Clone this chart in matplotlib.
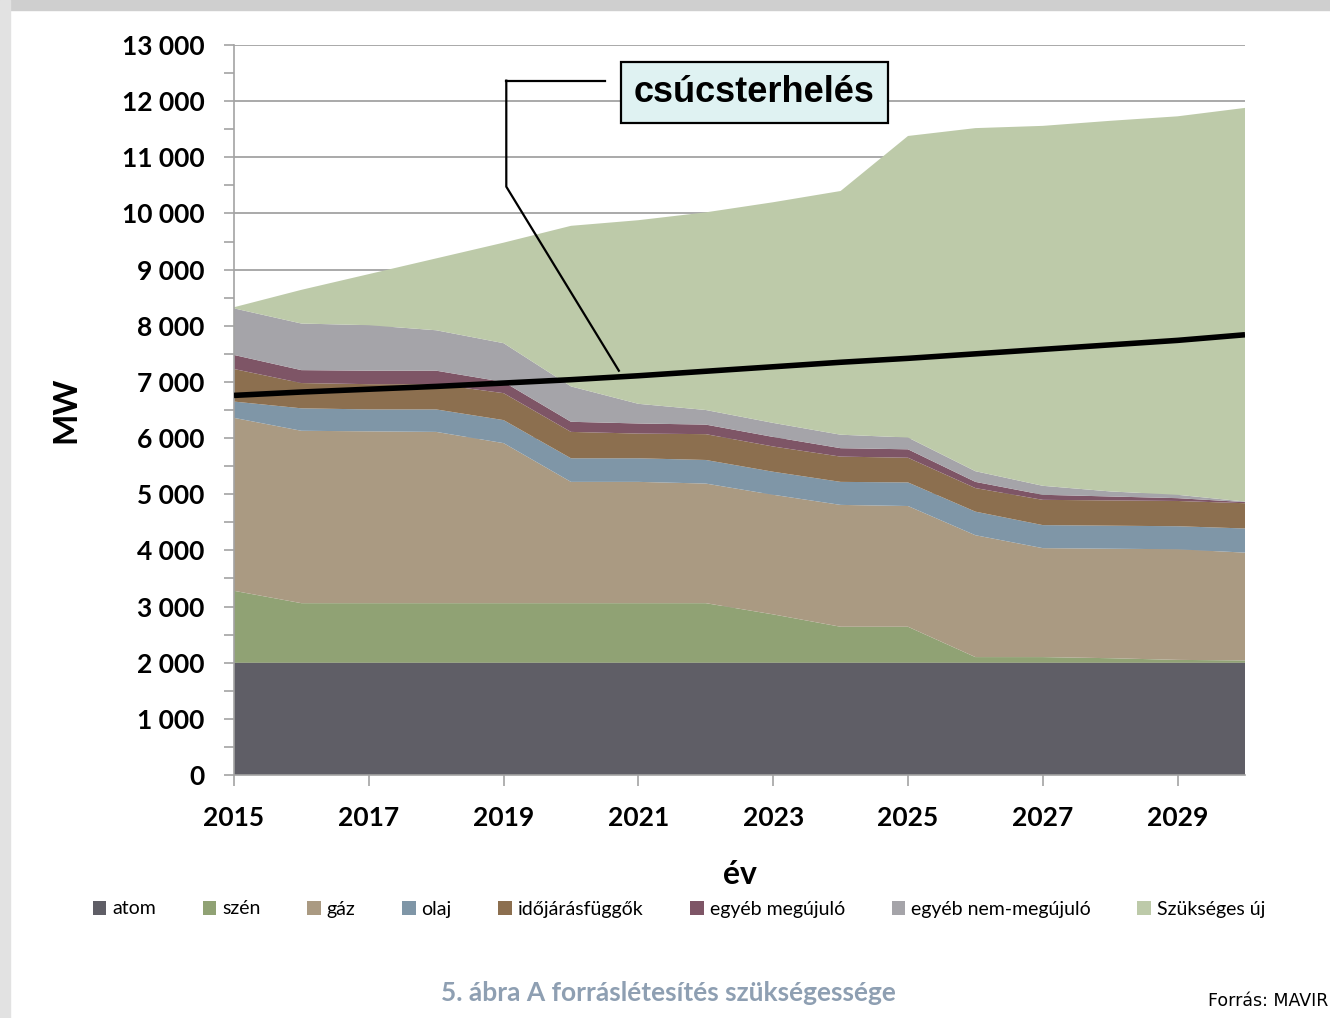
import numpy as np
import matplotlib.pyplot as plt
from matplotlib.patches import Rectangle, Patch
from matplotlib.ticker import FuncFormatter, MultipleLocator

plt.rcParams['font.family'] = ['Lato', 'DejaVu Sans']

# Capacity by source, MW, 2015-2030
years = list(range(2015, 2031))
atom = [2000] * 16
szen = [1280, 1060, 1060, 1060, 1060, 1060, 1060, 1060, 860, 640, 640, 100, 100, 80, 50, 40]
gaz = [3080, 3070, 3060, 3050, 2850, 2160, 2160, 2130, 2130, 2170, 2150, 2170, 1940, 1950, 1970, 1920]
olaj = [290, 400, 390, 400, 410, 420, 420, 420, 410, 410, 420, 420, 410, 410, 410, 430]
idojaras = [580, 450, 450, 450, 480, 470, 440, 460, 450, 450, 440, 420, 450, 450, 450, 450]
egyeb_megujulo = [250, 230, 240, 240, 200, 180, 180, 170, 170, 150, 150, 110, 90, 70, 50, 20]
egyeb_nem = [830, 830, 810, 720, 690, 630, 350, 260, 250, 240, 210, 190, 160, 90, 60, 10]
szukseges_uj = [20, 600, 910, 1280, 1790, 2860, 3270, 3520, 3930, 4340, 5370, 6110, 6410, 6600, 6740, 7010]

# peak load line
csucs = [6760, 6820, 6870, 6920, 6980, 7040, 7110, 7190, 7270, 7350, 7420, 7500, 7580, 7660, 7740, 7840]

labels = ['atom', 'szén', 'gáz', 'olaj', 'időjárásfüggők', 'egyéb megújuló',
          'egyéb nem-megújuló', 'Szükséges új']
colors = ['#5f5e66', '#90a274', '#aa9a82', '#7f96a7', '#8c6f4f', '#7e5566',
          '#a5a4a9', '#bdcaa9']

fig = plt.figure(figsize=(13.3, 10.18), dpi=100)

# grey page edges
fig.patches.append(Rectangle((0, 1 - 10 / 1018), 1, 10 / 1018, transform=fig.transFigure,
                             color='#cfcfcf', zorder=0))
fig.patches.append(Rectangle((0, 0), 10 / 1330, 1, transform=fig.transFigure,
                             color='#e2e2e2', zorder=0))

ax = fig.add_axes([234 / 1330, 243 / 1018, 1011 / 1330, 730 / 1018])

series = [atom, szen, gaz, olaj, idojaras, egyeb_megujulo, egyeb_nem, szukseges_uj]
ax.stackplot(years, *series, colors=colors, labels=labels, linewidth=0, zorder=2)
ax.plot(years, csucs, color='black', lw=4, solid_capstyle='butt', zorder=4)

ax.set_xlim(2015, 2030)
ax.set_ylim(0, 13000)
ax.set_xticks(range(2015, 2030, 2))
ax.yaxis.set_major_locator(MultipleLocator(1000))
ax.yaxis.set_minor_locator(MultipleLocator(500))
ax.yaxis.set_major_formatter(FuncFormatter(lambda v, p: f'{int(v):,}'.replace(',', ' ')))
ax.grid(axis='y', color='#a3a3a3', lw=1.3, zorder=1)
ax.set_axisbelow(True)

for side in ['top', 'right']:
    ax.spines[side].set_visible(False)
for side in ['left', 'bottom']:
    ax.spines[side].set_color('#a3a3a3')
    ax.spines[side].set_linewidth(1.2)

ax.tick_params(axis='both', which='both', color='#a3a3a3', width=1.2)
ax.tick_params(axis='y', which='major', length=7, pad=14, labelsize=19)
ax.tick_params(axis='y', which='minor', length=7)
ax.tick_params(axis='x', length=8, pad=14, labelsize=19)
for t in ax.get_xticklabels() + ax.get_yticklabels():
    t.set_fontweight('bold')

ax.set_ylabel('MW', fontsize=24, fontweight='bold', labelpad=30)
ax.set_xlabel('év', fontsize=23, fontweight='bold', labelpad=22)

# callout for the peak load line
ax.plot([2019.04, 2020.50], [12365, 12365], color='black', lw=1.6, zorder=5, clip_on=False)
ax.plot([2019.04, 2019.04, 2020.71], [12365, 10477, 7200], color='black', lw=1.6, zorder=5,
        clip_on=False)
ax.text(2022.72, 12150, 'csúcsterhelés', fontsize=26, fontweight='bold',
        family=['Liberation Sans', 'DejaVu Sans'], ha='center', va='center', zorder=6,
        bbox=dict(boxstyle='square,pad=0.36', fc='#dff2f2', ec='black', lw=1.6))

handles = [Patch(facecolor=c, edgecolor='none') for c in colors]
fig.legend(handles, labels, loc='center', bbox_to_anchor=(679 / 1330, 1 - 909 / 1018),
           ncol=8, frameon=False, fontsize=14, handlelength=0.7, handleheight=0.7,
           handletextpad=0.3, columnspacing=2.4)

fig.text(668 / 1330, 1 - 993 / 1018, '5. ábra A forráslétesítés szükségessége',
         ha='center', va='center', fontsize=19, fontweight='bold', color='#8e9fb2')
fig.text(1328 / 1330, 1 - 1001 / 1018, 'Forrás: MAVIR', ha='right', va='center',
         fontsize=12.5, family='DejaVu Sans', color='black')

fig.savefig('out.png', dpi=100)
